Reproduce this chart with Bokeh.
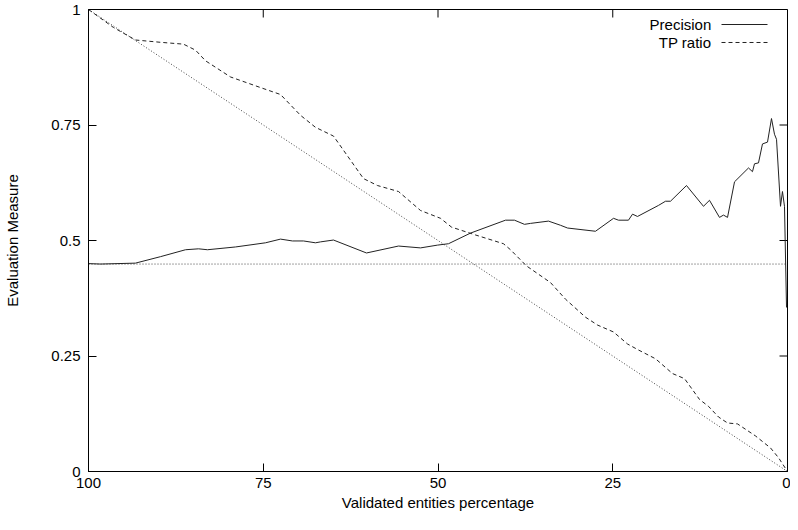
from bokeh.plotting import figure
from bokeh.models import Range1d, FixedTicker, Label, Arrow
from bokeh.embed import file_html
from bokeh.resources import INLINE

# ---- data ----
prec_x = [100, 98.28, 93.28, 89.7, 86.12, 84.26, 82.98, 78.97, 74.68, 72.53, 70.82, 69.24,
          67.53, 66.81, 64.95, 60.23, 55.65, 52.5, 50.07, 48.5, 45.35, 40.34, 39.06, 37.63,
          36.77, 34.19, 32.48, 31.47, 27.47, 24.89, 24.18, 22.75, 22.17, 21.46, 18.45, 17.45,
          16.74, 14.45, 12.02, 11.16, 9.73, 9.16, 8.58, 7.58, 5.58, 5.01, 4.72, 4.15, 3.58,
          2.86, 2.29, 1.86, 1.57, 1.0, 0.72, 0.43, 0.14]
prec_y = [0.450, 0.449, 0.451, 0.465, 0.480, 0.482, 0.480, 0.486, 0.495, 0.503, 0.499, 0.499,
          0.495, 0.497, 0.501, 0.473, 0.488, 0.484, 0.490, 0.493, 0.516, 0.544, 0.544, 0.535,
          0.537, 0.542, 0.533, 0.527, 0.520, 0.548, 0.544, 0.544, 0.557, 0.552, 0.576, 0.585,
          0.585, 0.619, 0.574, 0.587, 0.550, 0.555, 0.550, 0.627, 0.657, 0.649, 0.666, 0.668,
          0.709, 0.713, 0.764, 0.730, 0.719, 0.574, 0.606, 0.574, 0.355]

tp_x = [100, 96.42, 93.28, 89.70, 86.41, 84.69, 83.26, 79.69, 75.39, 72.53, 69.67, 67.53,
        64.95, 60.66, 58.66, 55.65, 52.50, 49.64, 48.07, 44.64, 40.63, 39.63, 37.34, 33.91,
        31.76, 28.90, 27.18, 24.89, 22.89, 21.32, 18.88, 16.45, 14.73, 12.59, 11.30, 9.87,
        8.58, 7.15, 4.58, 2.43, 1.29, 0]
tp_y = [1.0, 0.961, 0.934, 0.929, 0.925, 0.912, 0.889, 0.854, 0.831, 0.816, 0.771, 0.745,
        0.726, 0.634, 0.619, 0.606, 0.565, 0.548, 0.529, 0.512, 0.493, 0.480, 0.445, 0.409,
        0.373, 0.334, 0.317, 0.302, 0.276, 0.263, 0.244, 0.212, 0.201, 0.156, 0.141, 0.118,
        0.105, 0.103, 0.077, 0.051, 0.030, 0.0]

ref_x = [100, 0]
diag_y = [1.0, 0.0]
base_y = [0.449, 0.449]

x_ticks = [100, 75, 50, 25, 0]
y_ticks = [0, 0.25, 0.5, 0.75, 1]
y_tick_labels = ["0", "0.25", "0.5", "0.75", "1"]
series_names = ["Precision", "TP ratio"]

FONT = "Liberation Sans"
X0, X1, Y0, Y1 = 100, 0, 0, 1

p = figure(width=790, height=514, output_backend="svg", toolbar_location=None,
           x_range=Range1d(X0, X1), y_range=Range1d(Y0, Y1),
           min_border_left=88, min_border_right=3, min_border_top=9, min_border_bottom=43)
p.grid.visible = False
p.outline_line_color = "black"
p.outline_line_width = 1
p.background_fill_color = "white"
p.border_fill_color = "white"

for ax in (p.xaxis[0], p.yaxis[0]):
    ax.major_tick_in = 8
    ax.major_tick_out = 0
    ax.minor_tick_in = 0
    ax.minor_tick_out = 0
    ax.axis_line_color = "black"
    ax.major_tick_line_color = "black"
    ax.major_label_text_font = FONT
    ax.major_label_text_font_size = "15px"
    ax.major_label_text_color = "black"
    ax.axis_label_text_font = FONT
    ax.axis_label_text_font_size = "15px"
    ax.axis_label_text_font_style = "normal"
    ax.axis_label_text_color = "black"

p.xaxis[0].ticker = FixedTicker(ticks=x_ticks)
p.yaxis[0].ticker = FixedTicker(ticks=y_ticks)
p.yaxis[0].major_label_overrides = {t: l for t, l in zip(y_ticks, y_tick_labels)}
p.xaxis[0].axis_label = "Validated entities percentage"
p.yaxis[0].axis_label = "Evaluation Measure"
p.xaxis[0].major_label_standoff = 6
p.xaxis[0].axis_label_standoff = 3
p.yaxis[0].major_label_standoff = 8
p.yaxis[0].axis_label_standoff = 27

# mirrored (inward) ticks on the top and right edges, gnuplot style
tick_len_y = 8 / 462.0 * (Y1 - Y0)
tick_len_x = 8 / 699.0 * (X0 - X1)
p.segment(x0=x_ticks, y0=[Y1] * len(x_ticks), x1=x_ticks, y1=[Y1 - tick_len_y] * len(x_ticks),
          line_color="black", line_width=1)
p.segment(x0=[X1] * len(y_ticks), y0=y_ticks, x1=[X1 + tick_len_x] * len(y_ticks), y1=y_ticks,
          line_color="black", line_width=1)

# reference lines
p.line(ref_x, diag_y, line_color="#444444", line_width=1, line_dash="1 2")
p.line(ref_x, base_y, line_color="#444444", line_width=1, line_dash="1 2")

p.line(prec_x, prec_y, line_color="#222222", line_width=1)
p.line(tp_x, tp_y, line_color="#222222", line_width=1, line_dash="4 3")

# gnuplot-style key: text on the left, line sample on the right
key_rows = [0.9675, 0.9286]
key_dash = ["solid", "4 3"]
for name, yv, dash in zip(series_names, key_rows, key_dash):
    p.add_layout(Label(x=10.9, y=yv, text=name, text_align="right", text_baseline="middle",
                       text_font=FONT, text_font_size="15px", text_color="black"))
    p.add_layout(Arrow(end=None, x_start=9.44, y_start=yv, x_end=2.86, y_end=yv,
                       line_color="#222222", line_width=1, line_dash=dash))

open("out.html", "w").write(file_html(p, INLINE))
